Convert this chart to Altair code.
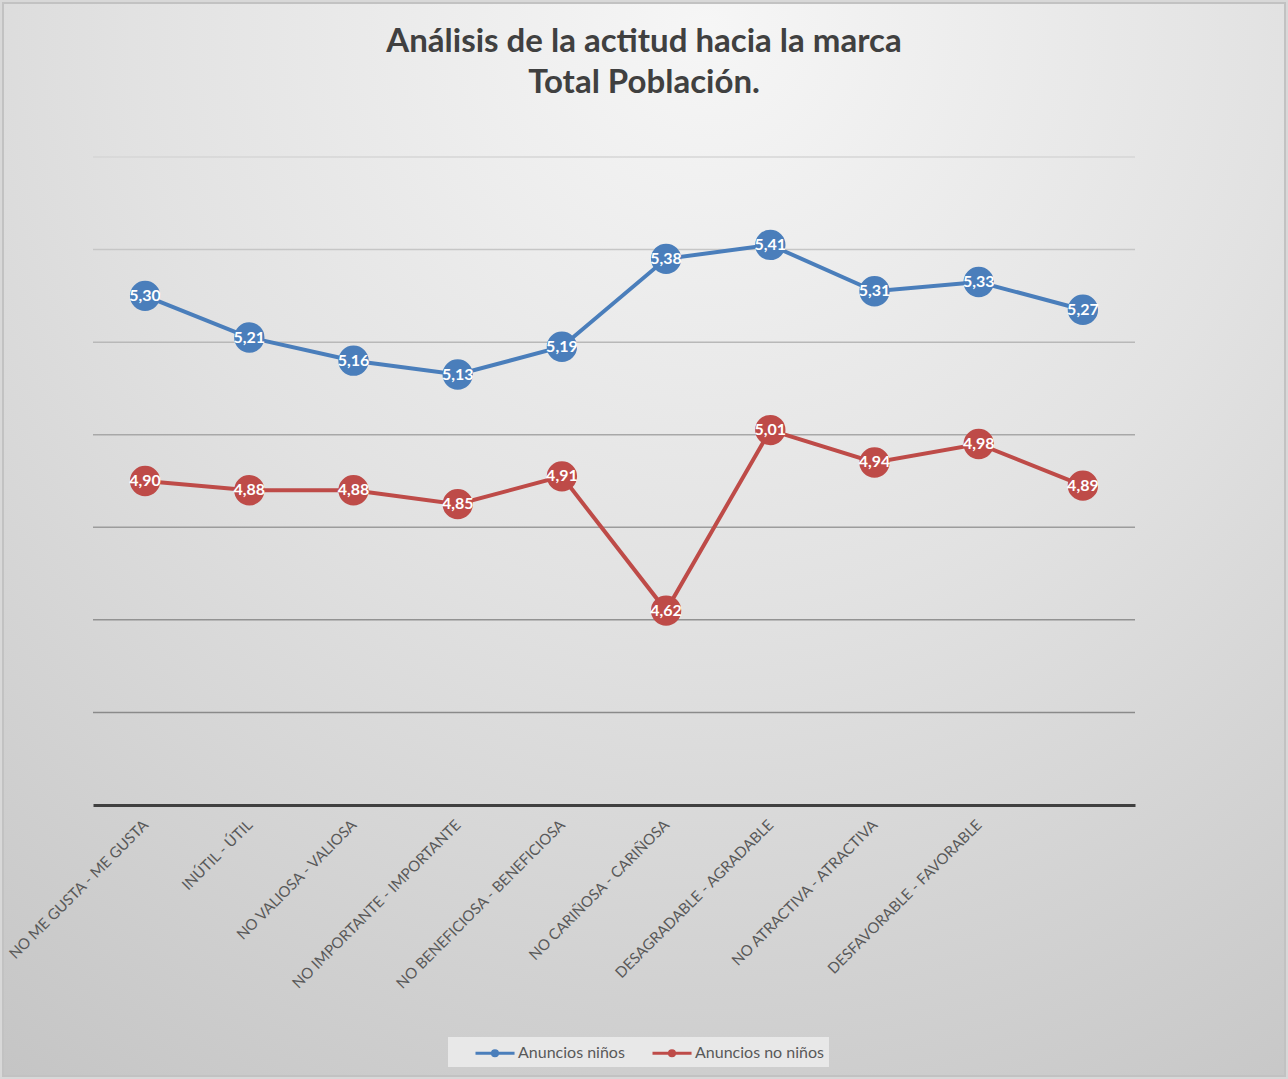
import altair as alt
import pandas as pd

categories = [
    "NO ME GUSTA - ME GUSTA",
    "INÚTIL - ÚTIL",
    "NO VALIOSA - VALIOSA",
    "NO IMPORTANTE - IMPORTANTE",
    "NO BENEFICIOSA - BENEFICIOSA",
    "NO CARIÑOSA - CARIÑOSA",
    "DESAGRADABLE - AGRADABLE",
    "NO ATRACTIVA - ATRACTIVA",
    "DESFAVORABLE - FAVORABLE",
    "",
]
serie_ninos = [5.30, 5.21, 5.16, 5.13, 5.19, 5.38, 5.41, 5.31, 5.33, 5.27]
serie_no_ninos = [4.90, 4.88, 4.88, 4.85, 4.91, 4.62, 5.01, 4.94, 4.98, 4.89]
series_names = ["Anuncios niños", "Anuncios no niños"]
grid_values = [4.4, 4.6, 4.8, 5.0, 5.2, 5.4, 5.6]

colors = ["#4A7EBB", "#BE4B48"]
grid_colors = ["#8a8a8a", "#929292", "#9c9c9c", "#a8a8a8", "#b8b8b8", "#c6c6c6", "#d6d6d6"]

rows = []
for i, c in enumerate(categories):
    rows.append({"idx": i, "serie": series_names[0], "valor": serie_ninos[i]})
    rows.append({"idx": i, "serie": series_names[1], "valor": serie_no_ninos[i]})
df = pd.DataFrame(rows)
df["etiqueta"] = df["valor"].map(lambda v: f"{v:.2f}".replace(".", ","))
grid_df = pd.DataFrame({"g": grid_values})

label_expr = "[" + ",".join("'" + c + "'" for c in categories) + "][datum.value]"

W, H = 1042, 648
PL, PT, PR, PB = 93, 157, 153, 274

x_enc = alt.X(
    "idx:O",
    scale=alt.Scale(domain=list(range(len(categories))), paddingInner=0, paddingOuter=0),
    axis=alt.Axis(
        title=None,
        labelExpr=label_expr,
        labelAngle=-45,
        labelAlign="right",
        labelBaseline="middle",
        labelPadding=17,
        labelLimit=0,
        labelFont="Lato",
        labelFontSize=15,
        labelColor="#595959",
        ticks=False,
        domainColor="#404040",
        domainWidth=3,
        grid=False,
        zindex=1,
    ),
)

y_scale = alt.Scale(domain=[4.2, 5.6], nice=False, zero=False)
y_enc = alt.Y("valor:Q", scale=y_scale, axis=None)

legend_symbol = (
    "M-1,0M1.21,0H5.32"
    "M2.99,0A0.27,0.27,0,1,0,3.53,0A0.27,0.27,0,1,0,2.99,0Z"
)

color_enc = alt.Color(
    "serie:N",
    scale=alt.Scale(domain=series_names, range=colors),
    legend=alt.Legend(
        title=None,
        orient="none",
        legendX=355,
        legendY=880,
        direction="horizontal",
        symbolType=legend_symbol,
        symbolSize=361,
        symbolStrokeWidth=3,
        labelFont="Lato",
        labelFontSize=16,
        labelColor="#595959",
        labelOffset=43,
        columnPadding=0,
        padding=5,
        fillColor="#e8e8e8",
        zindex=3,
    ),
)

bg = alt.Chart(pd.DataFrame({"a": [0]})).mark_rect(
    fill={
        "gradient": "radial",
        "x1": 0.55, "y1": 0.1, "r1": 0,
        "x2": 0.55, "y2": 0.1, "r2": 1.0,
        "stops": [
            {"offset": 0, "color": "#f6f6f6"},
            {"offset": 0.45, "color": "#e2e2e2"},
            {"offset": 1, "color": "#c4c4c4"},
        ],
    },
    stroke="#c2c2c2",
    strokeWidth=2,
).encode(
    x=alt.value(-PL + 3),
    x2=alt.value(W + PR - 3),
    y=alt.value(-PT + 3),
    y2=alt.value(H + PB - 3),
)

grid = alt.Chart(grid_df).mark_rule(strokeWidth=1.5).encode(
    y=alt.Y("g:Q", scale=y_scale, axis=None),
    x=alt.value(0),
    x2=alt.value(W),
    stroke=alt.Stroke("g:O", scale=alt.Scale(domain=grid_values, range=grid_colors), legend=None),
)

base = alt.Chart(df).encode(x=x_enc, y=y_enc, color=color_enc)

lines = base.mark_line(strokeWidth=4)
points = base.mark_circle(size=920, opacity=1)
texts = alt.Chart(df).mark_text(
    color="white", font="Lato", fontWeight="bold", fontSize=16
).encode(x=x_enc, y=y_enc, text="etiqueta:N")

chart = alt.layer(bg, grid, lines, points, texts).properties(
    width=W,
    height=H,
    autosize=alt.AutoSizeParams(type="none"),
    padding={"left": PL, "top": PT, "right": PR, "bottom": PB},
    title=alt.Title(
        ["Análisis de la actitud hacia la marca", "Total Población."],
        anchor="middle",
        dx=30,
        offset=-98,
        font="Lato",
        fontSize=33,
        fontWeight="bold",
        color="#404040",
        lineHeight=41,
        zindex=3,
    ),
).configure_view(stroke=None).configure(background="#d8d8d8")

chart.save("out.html", embed_options={"renderer": "svg", "actions": False})
